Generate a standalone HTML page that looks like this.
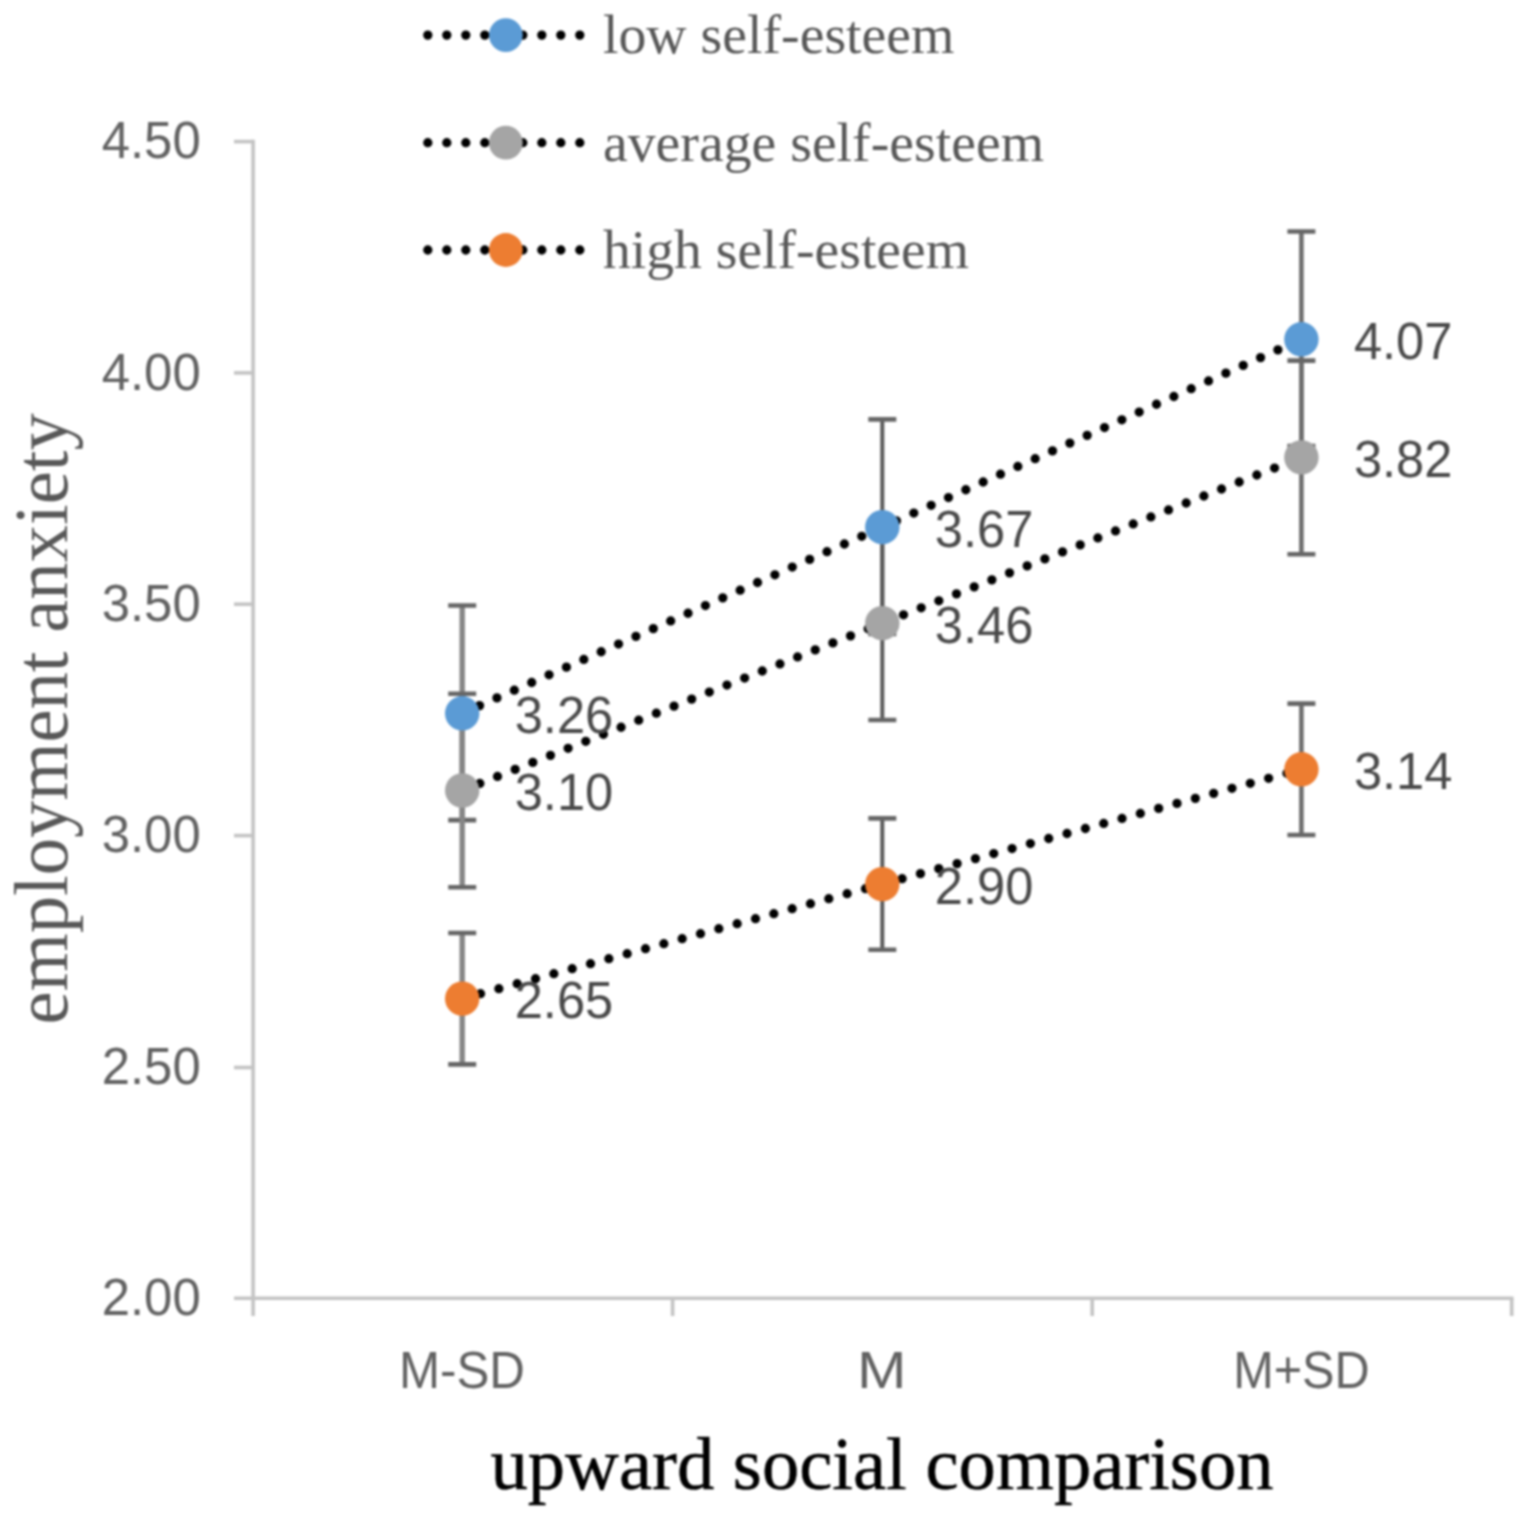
<!DOCTYPE html>
<html lang="en"><head><meta charset="utf-8"><title>employment anxiety by upward social comparison</title>
<style>
html,body{margin:0;padding:0;background:#fff}
body{width:1529px;height:1522px;overflow:hidden}
svg{display:block;filter:blur(1.0px)}
.sans{font-family:"Liberation Sans",Arial,sans-serif;font-size:51px;fill:#626262}
.serif{font-family:"Liberation Serif","Times New Roman",serif;fill:#585858}
.ax{stroke:#C3C3C3;stroke-width:3.6;fill:none}
.eb{stroke:#666;stroke-width:4.6;fill:none}
.dot{stroke:#000;stroke-width:9.3;stroke-linecap:round;stroke-dasharray:0 19;fill:none}
</style></head><body>
<svg width="1529" height="1522" viewBox="0 0 1529 1522">
<rect width="1529" height="1522" fill="#fff"/>
<g class="ax">
<path d="M253.1 139.8V1316"/>
<path d="M234 1298.2H1513.5"/>
<path d="M234 1067.5H253.1"/>
<path d="M234 835.6H253.1"/>
<path d="M234 604.2H253.1"/>
<path d="M234 372.9H253.1"/>
<path d="M234 141.6H253.1"/>
<path d="M672.6 1298.2V1316"/>
<path d="M1092.2 1298.2V1316"/>
<path d="M1511.7 1298.2V1316"/>
</g>
<g class="sans">
<text x="101.7" y="1315.0" textLength="99" lengthAdjust="spacingAndGlyphs">2.00</text>
<text x="101.7" y="1083.7" textLength="99" lengthAdjust="spacingAndGlyphs">2.50</text>
<text x="101.7" y="852.4" textLength="99" lengthAdjust="spacingAndGlyphs">3.00</text>
<text x="101.7" y="621.0" textLength="99" lengthAdjust="spacingAndGlyphs">3.50</text>
<text x="101.7" y="389.7" textLength="99" lengthAdjust="spacingAndGlyphs">4.00</text>
<text x="101.7" y="158.4" textLength="99" lengthAdjust="spacingAndGlyphs">4.50</text>
<text x="398.9" y="1388" textLength="126" lengthAdjust="spacingAndGlyphs">M-SD</text>
<text x="857.1" y="1388" textLength="49.5" lengthAdjust="spacingAndGlyphs">M</text>
<text x="1233.2" y="1388" textLength="136.5" lengthAdjust="spacingAndGlyphs">M+SD</text>
</g>
<g class="eb">
<path d="M462.2 605.5V820.1" stroke="#868686" stroke-width="5.4"/>
<path d="M448.2 605.5h28M448.2 820.1h28"/>
<path d="M882.3 419.4V634.0" stroke="#5A5A5A" stroke-width="4.0"/>
<path d="M868.3 419.4h28M868.3 634.0h28"/>
<path d="M1301.4 231.5V446.1" stroke="#6E6E6E" stroke-width="4.6"/>
<path d="M1287.4 231.5h28M1287.4 446.1h28"/>
<path d="M462.2 693.7V887.3" stroke="#868686" stroke-width="5.4"/>
<path d="M448.2 693.7h28M448.2 887.3h28"/>
<path d="M882.3 526.4V720.0" stroke="#5A5A5A" stroke-width="4.0"/>
<path d="M868.3 526.4h28M868.3 720.0h28"/>
<path d="M1301.4 360.6V554.2" stroke="#6E6E6E" stroke-width="4.6"/>
<path d="M1287.4 360.6h28M1287.4 554.2h28"/>
<path d="M462.2 933.0V1064.4" stroke="#868686" stroke-width="5.4"/>
<path d="M448.2 933.0h28M448.2 1064.4h28"/>
<path d="M882.3 818.4V949.8" stroke="#5A5A5A" stroke-width="4.0"/>
<path d="M868.3 818.4h28M868.3 949.8h28"/>
<path d="M1301.4 703.6V835.0" stroke="#6E6E6E" stroke-width="4.6"/>
<path d="M1287.4 703.6h28M1287.4 835.0h28"/>
</g>
<path class="dot" d="M462.2 713.3L882.3 527.2L1301.4 339.3"/>
<path class="dot" d="M462.2 790.5L882.3 623.2L1301.4 457.4"/>
<path class="dot" d="M462.2 998.7L882.3 884.1L1301.4 769.3"/>
<circle cx="462.2" cy="713.3" r="17.2" fill="#5B9BD5"/>
<circle cx="882.3" cy="527.2" r="17.2" fill="#5B9BD5"/>
<circle cx="1301.4" cy="339.3" r="17.2" fill="#5B9BD5"/>
<circle cx="462.2" cy="790.5" r="17.2" fill="#A5A5A5"/>
<circle cx="882.3" cy="623.2" r="17.2" fill="#A5A5A5"/>
<circle cx="1301.4" cy="457.4" r="17.2" fill="#A5A5A5"/>
<circle cx="462.2" cy="998.7" r="17.2" fill="#ED7D31"/>
<circle cx="882.3" cy="884.1" r="17.2" fill="#ED7D31"/>
<circle cx="1301.4" cy="769.3" r="17.2" fill="#ED7D31"/>
<g class="sans" style="fill:#494949">
<text x="514.7" y="732.8" textLength="98.5" lengthAdjust="spacingAndGlyphs">3.26</text>
<text x="934.8" y="546.7" textLength="98.5" lengthAdjust="spacingAndGlyphs">3.67</text>
<text x="1353.9" y="358.8" textLength="98.5" lengthAdjust="spacingAndGlyphs">4.07</text>
<text x="514.7" y="810.0" textLength="98.5" lengthAdjust="spacingAndGlyphs">3.10</text>
<text x="934.8" y="642.7" textLength="98.5" lengthAdjust="spacingAndGlyphs">3.46</text>
<text x="1353.9" y="476.9" textLength="98.5" lengthAdjust="spacingAndGlyphs">3.82</text>
<text x="514.7" y="1018.2" textLength="98.5" lengthAdjust="spacingAndGlyphs">2.65</text>
<text x="934.8" y="903.6" textLength="98.5" lengthAdjust="spacingAndGlyphs">2.90</text>
<text x="1353.9" y="788.8" textLength="98.5" lengthAdjust="spacingAndGlyphs">3.14</text>
</g>
<path class="dot" d="M427.8 35.1H581"/>
<circle cx="505.8" cy="35.1" r="16.9" fill="#5B9BD5"/>
<text class="serif" x="603" y="53.4" font-size="55.5" textLength="351.5" lengthAdjust="spacingAndGlyphs">low self-esteem</text>
<path class="dot" d="M427.8 142.7H581"/>
<circle cx="505.8" cy="142.7" r="16.9" fill="#A5A5A5"/>
<text class="serif" x="603" y="161.0" font-size="55.5" textLength="441" lengthAdjust="spacingAndGlyphs">average self-esteem</text>
<path class="dot" d="M427.8 250.0H581"/>
<circle cx="505.8" cy="250.0" r="16.9" fill="#ED7D31"/>
<text class="serif" x="603" y="268.3" font-size="55.5" textLength="366" lengthAdjust="spacingAndGlyphs">high self-esteem</text>
<text class="serif" x="490.5" y="1489" font-size="74" style="fill:#000;stroke:#000;stroke-width:0.5" textLength="783" lengthAdjust="spacingAndGlyphs">upward social comparison</text>
<text class="serif" transform="translate(67.2 1024.4) rotate(-90)" font-size="75.5" textLength="611.2" lengthAdjust="spacingAndGlyphs">employment anxiety</text>
</svg></body></html>
